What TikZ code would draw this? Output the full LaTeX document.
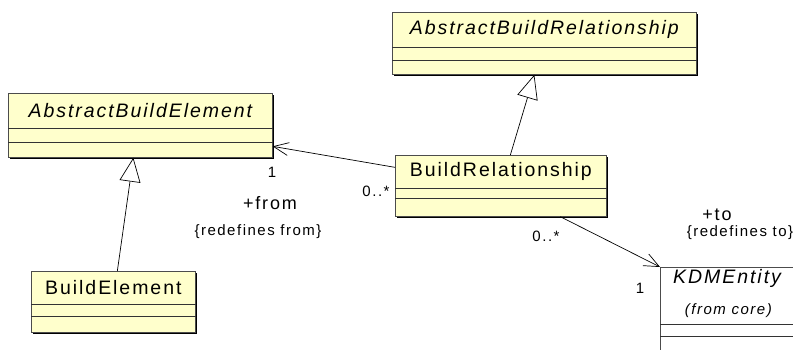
\documentclass[tikz,border=0pt]{standalone}
\usepackage{fontspec}
\setmainfont{Liberation Sans}[LetterSpace=10]
\usetikzlibrary{arrows.meta,shadows,calc}
\definecolor{umlyellow}{HTML}{FFFFCC}
\tikzset{
  classbox/.style={rectangle, draw=black!70, fill=umlyellow, line width=0.7pt, inner sep=0pt, anchor=north west,
    drop shadow={shadow xshift=1.6pt, shadow yshift=-1.6pt, fill=black, opacity=1}},
  plainbox/.style={rectangle, draw=black!70, fill=white, line width=0.7pt, inner sep=0pt, anchor=north west},
  sepline/.style={draw=black!80, line width=0.7pt},
  cname/.style={font=\fontsize{19.5}{22}\selectfont, inner sep=0pt},
  cnameit/.style={font=\fontsize{19.5}{22}\selectfont\itshape, inner sep=0pt},
  fromcore/.style={font=\fontsize{15}{17}\selectfont\itshape, inner sep=0pt},
  lbl/.style={font=\fontsize{15}{17}\selectfont, inner sep=0pt},
  role/.style={font=\fontsize{18}{21}\selectfont, inner sep=0pt},
  conn/.style={draw=black, line width=0.7pt},
  gen/.style={conn, -{Triangle[open, length=24pt, width=21pt, fill=white]}},
  nav/.style={conn, -{Straight Barb[length=15pt, width=13pt]}},
}
\begin{document}
\begin{tikzpicture}[x=1pt, y=-1pt]
\useasboundingbox (0,0) rectangle (793,350);
\clip (0,0) rectangle (793,350);
\fill[white] (0,0) rectangle (793,350);

% AbstractBuildRelationship
\node[classbox, minimum width=304pt, minimum height=62pt] (abr) at (392,12) {};
\draw[sepline] ($(abr.north west)+(0,35)$) -- ($(abr.north east)+(0,35)$);
\draw[sepline] ($(abr.north west)+(0,48)$) -- ($(abr.north east)+(0,48)$);
\node[cnameit] (abrname) at ($(abr.north)+(0,17.5)$) {AbstractBuildRelationship};

% AbstractBuildElement
\node[classbox, minimum width=264pt, minimum height=64pt] (abe) at (8,93) {};
\draw[sepline] ($(abe.north west)+(0,35)$) -- ($(abe.north east)+(0,35)$);
\draw[sepline] ($(abe.north west)+(0,49)$) -- ($(abe.north east)+(0,49)$);
\node[cnameit] (abename) at ($(abe.north)+(0,17.5)$) {AbstractBuildElement};

% BuildRelationship
\node[classbox, minimum width=211pt, minimum height=61pt] (br) at (395,155) {};
\draw[sepline] ($(br.north west)+(0,33)$) -- ($(br.north east)+(0,33)$);
\draw[sepline] ($(br.north west)+(0,43)$) -- ($(br.north east)+(0,43)$);
\node[cname] (brname) at ($(br.north)+(0,16.5)$) {BuildRelationship};

% BuildElement
\node[classbox, minimum width=164pt, minimum height=61pt] (be) at (31,271) {};
\draw[sepline] ($(be.north west)+(0,33)$) -- ($(be.north east)+(0,33)$);
\draw[sepline] ($(be.north west)+(0,45)$) -- ($(be.north east)+(0,45)$);
\node[cname] (bename) at ($(be.north)+(0,16.5)$) {BuildElement};

% KDMEntity
\node[plainbox, minimum width=146pt, minimum height=100pt] (kdm) at (660,267) {};
\draw[sepline] ($(kdm.north west)+(0,57)$) -- ($(kdm.north east)+(0,57)$);
\draw[sepline] ($(kdm.north west)+(0,69)$) -- ($(kdm.north east)+(0,69)$);
\node[cnameit, anchor=west] (kdmname) at ($(kdm.north west)+(13,11)$) {KDMEntity};
\node[fromcore] (kdmcore) at ($(kdm.north)+(-5,44)$) {(from core)};

% connectors
\draw[gen] ([xshift=9.5pt]br.north) -- ([xshift=-10pt]abr.south);
\draw[gen] ([xshift=4pt]be.north) -- ([xshift=-7pt]abe.south);
\draw[nav] ([yshift=18.5pt]br.west) -- ([yshift=-21pt]abe.east);
\draw[nav] ([xshift=59.5pt]br.south) -- (kdm.north west);

% labels
\node[lbl] (m1) at (272,172) {1};
\node[role] (rfrom) at (270,203) {+from};
\node[lbl] (m2) at (376,191) {0..*};
\node[lbl] (rdf) at (258,232) {\{redefines from\}};
\node[lbl] (m3) at (546,236) {0..*};
\node[lbl] (m4) at (640,288) {1};
\node[role] (rto) at (717,215) {+to};
\node[lbl] (rdt) at (740,233) {\{redefines to\}};
\end{tikzpicture}
\end{document}
